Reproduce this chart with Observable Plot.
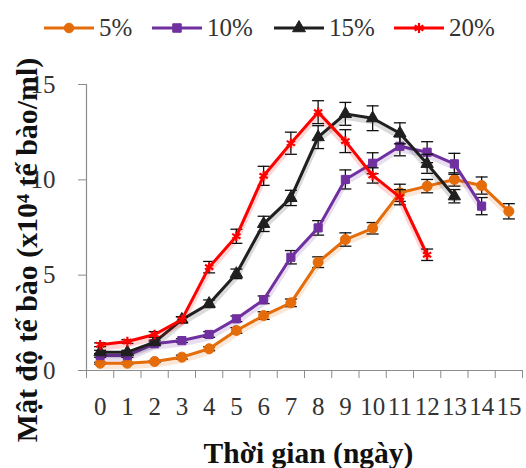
<!DOCTYPE html>
<html><head><meta charset="utf-8">
<script src="https://cdn.jsdelivr.net/npm/d3@7"></script>
<script src="https://cdn.jsdelivr.net/npm/@observablehq/plot@0.6"></script>
<style>
body{margin:0;background:#fff;width:526px;height:468px;overflow:hidden;font-family:"Liberation Serif",serif;position:relative;}
#legend{position:relative;height:55px;}
.item{position:absolute;top:0;height:55px;display:flex;align-items:center;font-size:25px;color:#333;}
.item svg{margin-right:5px;}
#ytitle{position:absolute;left:27px;top:250px;transform:translate(-50%,-50%) rotate(-90deg);white-space:nowrap;font-weight:bold;color:#111;line-height:1;}
#chart svg text{font-family:"Liberation Serif",serif;}
</style></head><body>
<div id="legend"></div>
<div id="chart"></div>
<div id="ytitle"></div>
<script>
const days = [0,1,2,3,4,5,6,7,8,9,10,11,12,13,14,15];
const seriesNames = ["5%","10%","15%","20%"];
const colors = ["#E46C0A","#7030A0","#1F1F1F","#FF0000"];
const symbols = ["circle","square","triangle","asterisk"];
const legendLeft = [44,152,274,394];

const v5  = [0.38,0.38,0.47,0.70,1.14,2.10,2.88,3.55,5.68,6.87,7.46,9.32,9.67,10.02,9.70,8.35];
const e5  = [0.05,0.05,0.05,0.10,0.10,0.15,0.20,0.20,0.28,0.35,0.30,0.45,0.35,0.35,0.45,0.40];
const v10 = [0.79,0.79,1.40,1.57,1.89,2.71,3.71,5.94,7.48,10.02,10.87,11.76,11.45,10.84,8.62];
const e10 = [0.10,0.10,0.10,0.10,0.15,0.15,0.20,0.35,0.38,0.50,0.55,0.50,0.55,0.55,0.45];
const v15 = [0.96,0.96,1.49,2.67,3.50,5.07,7.69,9.05,12.24,13.46,13.23,12.44,10.84,9.14];
const e15 = [0.10,0.10,0.10,0.15,0.20,0.25,0.40,0.40,0.60,0.60,0.65,0.55,0.50,0.35];
const v20 = [1.35,1.52,1.89,2.67,5.42,7.04,10.21,11.92,13.55,12.03,10.23,9.09,6.07];
const e20 = [0.10,0.10,0.15,0.15,0.30,0.37,0.50,0.58,0.60,0.60,0.40,0.40,0.30];

const yTicks = [0,5,10,15];
const xTitle = "Thời gian (ngày)";
const yTitle = "Mật độ tế bào (x10⁴ tế bào/ml)";

const values = [v5,v10,v15,v20];
const errors = [e5,e10,e15,e20];
const series = values.map((vals,s) => vals.map((v,i) => ({day: days[i], value: v, err: errors[s][i], name: seriesNames[s]})));

// legend
const leg = document.getElementById("legend");
seriesNames.forEach((n,s) => {
  const div = document.createElement("div");
  div.className = "item";
  div.style.left = legendLeft[s] + "px";
  const sym = d3.symbol().type({circle: d3.symbolCircle, square: d3.symbolSquare, triangle: d3.symbolTriangle, asterisk: d3.symbolAsterisk}[symbols[s]]).size(72)();
  const filled = symbols[s] !== "asterisk";
  div.innerHTML = `<svg width="50" height="20"><line x1="0" x2="50" y1="10" y2="10" stroke="${colors[s]}" stroke-width="3"/><path transform="translate(25,10)" d="${sym}" fill="${filled ? colors[s] : "none"}" stroke="${colors[s]}" stroke-width="${filled?1:2.2}"/></svg><span>${n}</span>`;
  leg.appendChild(div);
});

// y title (fit to reference length)
const yt = document.getElementById("ytitle");
yt.textContent = yTitle;
yt.style.fontSize = "29px";
const natural = yt.scrollWidth;
yt.style.fontSize = (29 * 385 / natural).toFixed(2) + "px";

const capSymbol = {draw(ctx, size){ const r = Math.sqrt(size/Math.PI); ctx.moveTo(-r,0); ctx.lineTo(r,0); }};

const marks = [
  Plot.ruleY([0], {stroke:"#8c8c8c", strokeWidth:1.2}),
  Plot.ruleX([days[0]-0.5], {stroke:"#8c8c8c", strokeWidth:1.2}),
  Plot.axisX(days.concat([days[days.length-1]+1]).map(d => d-0.5), {tickSize:8, stroke:"#8c8c8c", tickFormat: () => "", label:null}),
  Plot.axisX(days, {tickSize:0, tickPadding:27, fontSize:25, fill:"#333", tickFormat: d => String(d), label:null}),
  Plot.axisY(yTicks, {tickSize:8, tickPadding:23, stroke:"#8c8c8c", fontSize:25, fill:"#333", tickFormat: d => String(d), label:null}),
  Plot.text([xTitle], {frameAnchor:"bottom", dx:4, dy:83, fontSize:29.5, fontWeight:"bold", fill:"#111", lineAnchor:"middle"})
];
series.forEach((data,s) => {
  marks.push(Plot.line(data, {x:"day", y:"value", stroke:colors[s], strokeWidth:6, strokeOpacity:0.16, dy:3}));
  marks.push(Plot.ruleX(data, {x:"day", y1: d => d.value - d.err, y2: d => d.value + d.err, stroke:"#111", strokeWidth:1.3}));
  marks.push(Plot.dot(data, {x:"day", y: d => d.value - d.err, symbol: capSymbol, r:6, stroke:"#111", strokeWidth:1.3}));
  marks.push(Plot.dot(data, {x:"day", y: d => d.value + d.err, symbol: capSymbol, r:6, stroke:"#111", strokeWidth:1.3}));
  marks.push(Plot.line(data, {x:"day", y:"value", stroke:colors[s], strokeWidth:3}));
  if (symbols[s] === "asterisk")
    marks.push(Plot.dot(data, {x:"day", y:"value", symbol:"asterisk", r:4.5, stroke:colors[s], strokeWidth:2.2}));
  else
    marks.push(Plot.dot(data, {x:"day", y:"value", symbol:symbols[s], r: symbols[s]==="circle" ? 5 : 4.6, fill:colors[s], stroke:colors[s], strokeWidth:1}));
});

const chart = Plot.plot({
  width:526, height:413,
  marginLeft:86, marginRight:4, marginTop:29, marginBottom:98,
  x:{type:"linear", domain:[days[0]-0.5, days[days.length-1]+0.5], axis:null},
  y:{type:"linear", domain:[0,15], axis:null},
  style:{fontFamily:"'Liberation Serif', serif", background:"#fff", overflow:"visible"},
  marks
});
chart.setAttribute("font-family", "Liberation Serif, serif");
document.getElementById("chart").appendChild(chart);
</script>
</body></html>
